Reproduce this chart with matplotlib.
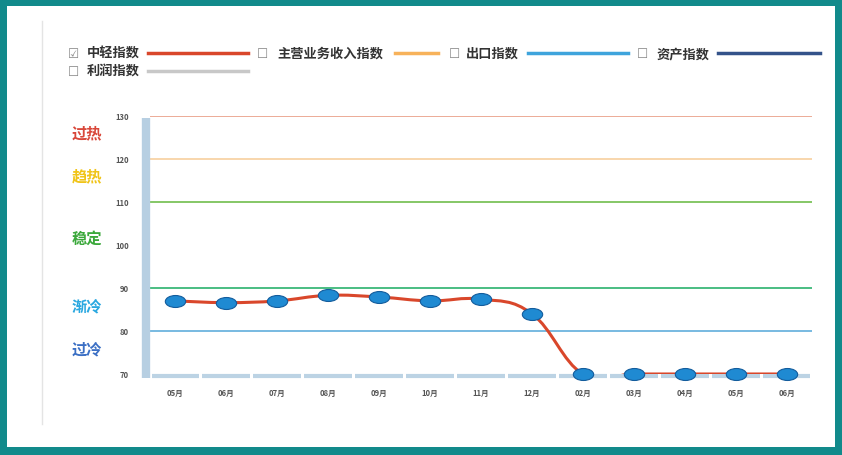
import numpy as np
import matplotlib
matplotlib.use('Agg')
import matplotlib.pyplot as plt
from matplotlib.path import Path
from matplotlib.patches import PathPatch, Rectangle
from matplotlib.lines import Line2D
from matplotlib.markers import MarkerStyle
from matplotlib.transforms import Affine2D, blended_transform_factory

plt.rcParams['font.family'] = ['Noto Sans CJK SC', 'DejaVu Sans']

months = ['05月', '06月', '07月', '08月', '09月', '10月', '11月', '12月',
          '02月', '03月', '04月', '05月', '06月']
index_values = [87.0, 86.6, 87.0, 88.3, 87.9, 87.0, 87.4, 84.0,
                70, 70, 70, 70, 70]

y_ticks = [70, 80, 90, 100, 110, 120, 130]
level_lines = [130, 120, 110, 90, 80]
level_colors = ['#eba58f', '#f8d3a6', '#7cc35a', '#3cb878', '#6db4de']
zone_names = ['过热', '趋热', '稳定', '渐冷', '过冷']
zone_y = [126.3, 116.3, 101.8, 85.9, 75.9]
zone_colors = ['#d9473a', '#f0c419', '#3aa83a', '#2aa8e0', '#3b6fc4']

legend_names = ['中轻指数', '主营业务收入指数', '出口指数', '资产指数', '利润指数']
legend_colors = ['#d9472b', '#f7b25a', '#3ea4dc', '#34538a', '#c8c8c8']

W, H = 842, 456
fig = plt.figure(figsize=(W / 100, H / 100), dpi=100)
fig.patch.set_facecolor('#118a8b')
fig.add_artist(Rectangle((7 / W, 8 / H), (W - 14) / W, (H - 15) / H,
                         transform=fig.transFigure, facecolor='white',
                         edgecolor='none', zorder=0))
fig.add_artist(Line2D([42 / W, 42 / W], [1 - 425 / H, 1 - 22 / H],
                      transform=fig.transFigure, color='#e4e4e4', lw=1))

ax = fig.add_axes([150 / W, 1 - 375 / H, 662 / W, 258 / H])
ax.set_facecolor('none')
ax.set_xlim(-0.5, len(months) - 0.5)
ax.set_ylim(70, 130)

for s in ['top', 'right', 'bottom']:
    ax.spines[s].set_visible(False)
ax.spines['left'].set_color('#b7cfe2')
ax.spines['left'].set_linewidth(6)
ax.spines['left'].set_position(('outward', 3))
ax.spines['left'].set_bounds(69, 129.5)
ax.spines['left'].set_capstyle('butt')

ax.set_yticks(y_ticks)
ax.set_yticklabels([str(v) for v in y_ticks], fontsize=5.5, color='#555555',
                   fontweight='bold')
ax.set_xticks(range(len(months)))
ax.set_xticklabels(months, fontsize=5.5, color='#555555', fontweight='bold')
ax.tick_params(length=0, pad=10)
ax.tick_params(axis='y', pad=12)

# horizontal level lines
for v, c in zip(level_lines, level_colors):
    ax.axhline(v, color=c, lw=1.3, zorder=1)

# segmented category axis along the bottom
for i in range(len(months)):
    ax.plot([i - 0.47, i + 0.47], [69.6, 69.6], color='#bcd3e4', lw=3,
            solid_capstyle='butt', clip_on=False, zorder=1)

# zone labels on the left
trans = blended_transform_factory(fig.transFigure, ax.transData)
for name, yv, c in zip(zone_names, zone_y, zone_colors):
    ax.text(72 / W, yv, name, transform=trans, fontsize=11, color=c,
            fontweight='bold', va='center', ha='left')

# smooth series line built as a bezier path
x = np.arange(len(index_values), dtype=float)
y = np.array(index_values, dtype=float)
verts = [(x[0], y[0])]
codes = [Path.MOVETO]
k = 0.2
for i in range(len(x) - 1):
    p0 = (x[max(i - 1, 0)], y[max(i - 1, 0)])
    p1 = (x[i], y[i])
    p2 = (x[i + 1], y[i + 1])
    p3 = (x[min(i + 2, len(x) - 1)], y[min(i + 2, len(x) - 1)])
    c1 = (p1[0] + k * (p2[0] - p0[0]), p1[1] + k * (p2[1] - p0[1]))
    c2 = (p2[0] - k * (p3[0] - p1[0]), p2[1] - k * (p3[1] - p1[1]))
    verts += [c1, c2, p2]
    codes += [Path.CURVE4] * 3
ax.add_patch(PathPatch(Path(verts, codes), facecolor='none',
                       edgecolor='#d9472b', lw=2.2, zorder=3))

# oval markers
ellipse = Path.unit_circle().transformed(Affine2D().scale(1.7, 1.0))
ax.scatter(x, y, marker=MarkerStyle(ellipse), s=215, color='#1f8ad2',
           edgecolors='#135c9c', linewidths=0.8, zorder=4, clip_on=False)

# legend drawn by hand
def legend_item(x0, yrow, text, color, tx, lx0, lx1, checked=False):
    fy = 1 - yrow / H
    box = '☑' if checked else '☐'
    fig.text(x0 / W, fy, box, fontsize=9, color='#888888',
             va='center', ha='left', family=['DejaVu Sans'])
    fig.text(tx / W, fy, text, fontsize=9.5, fontweight='bold',
             color='#333333', va='center', ha='left')
    fig.add_artist(Line2D([lx0 / W, lx1 / W], [fy, fy],
                          transform=fig.transFigure, color=color, lw=2.5))

legend_item(68, 54, legend_names[0], legend_colors[0], 87, 148, 248, True)
legend_item(257, 54, legend_names[1], legend_colors[1], 277, 395, 438)
legend_item(449, 54, legend_names[2], legend_colors[2], 466, 528, 628)
legend_item(637, 54, legend_names[3], legend_colors[3], 657, 718, 820)
legend_item(68, 72, legend_names[4], legend_colors[4], 87, 148, 248)

fig.savefig('out.png', dpi=100)
